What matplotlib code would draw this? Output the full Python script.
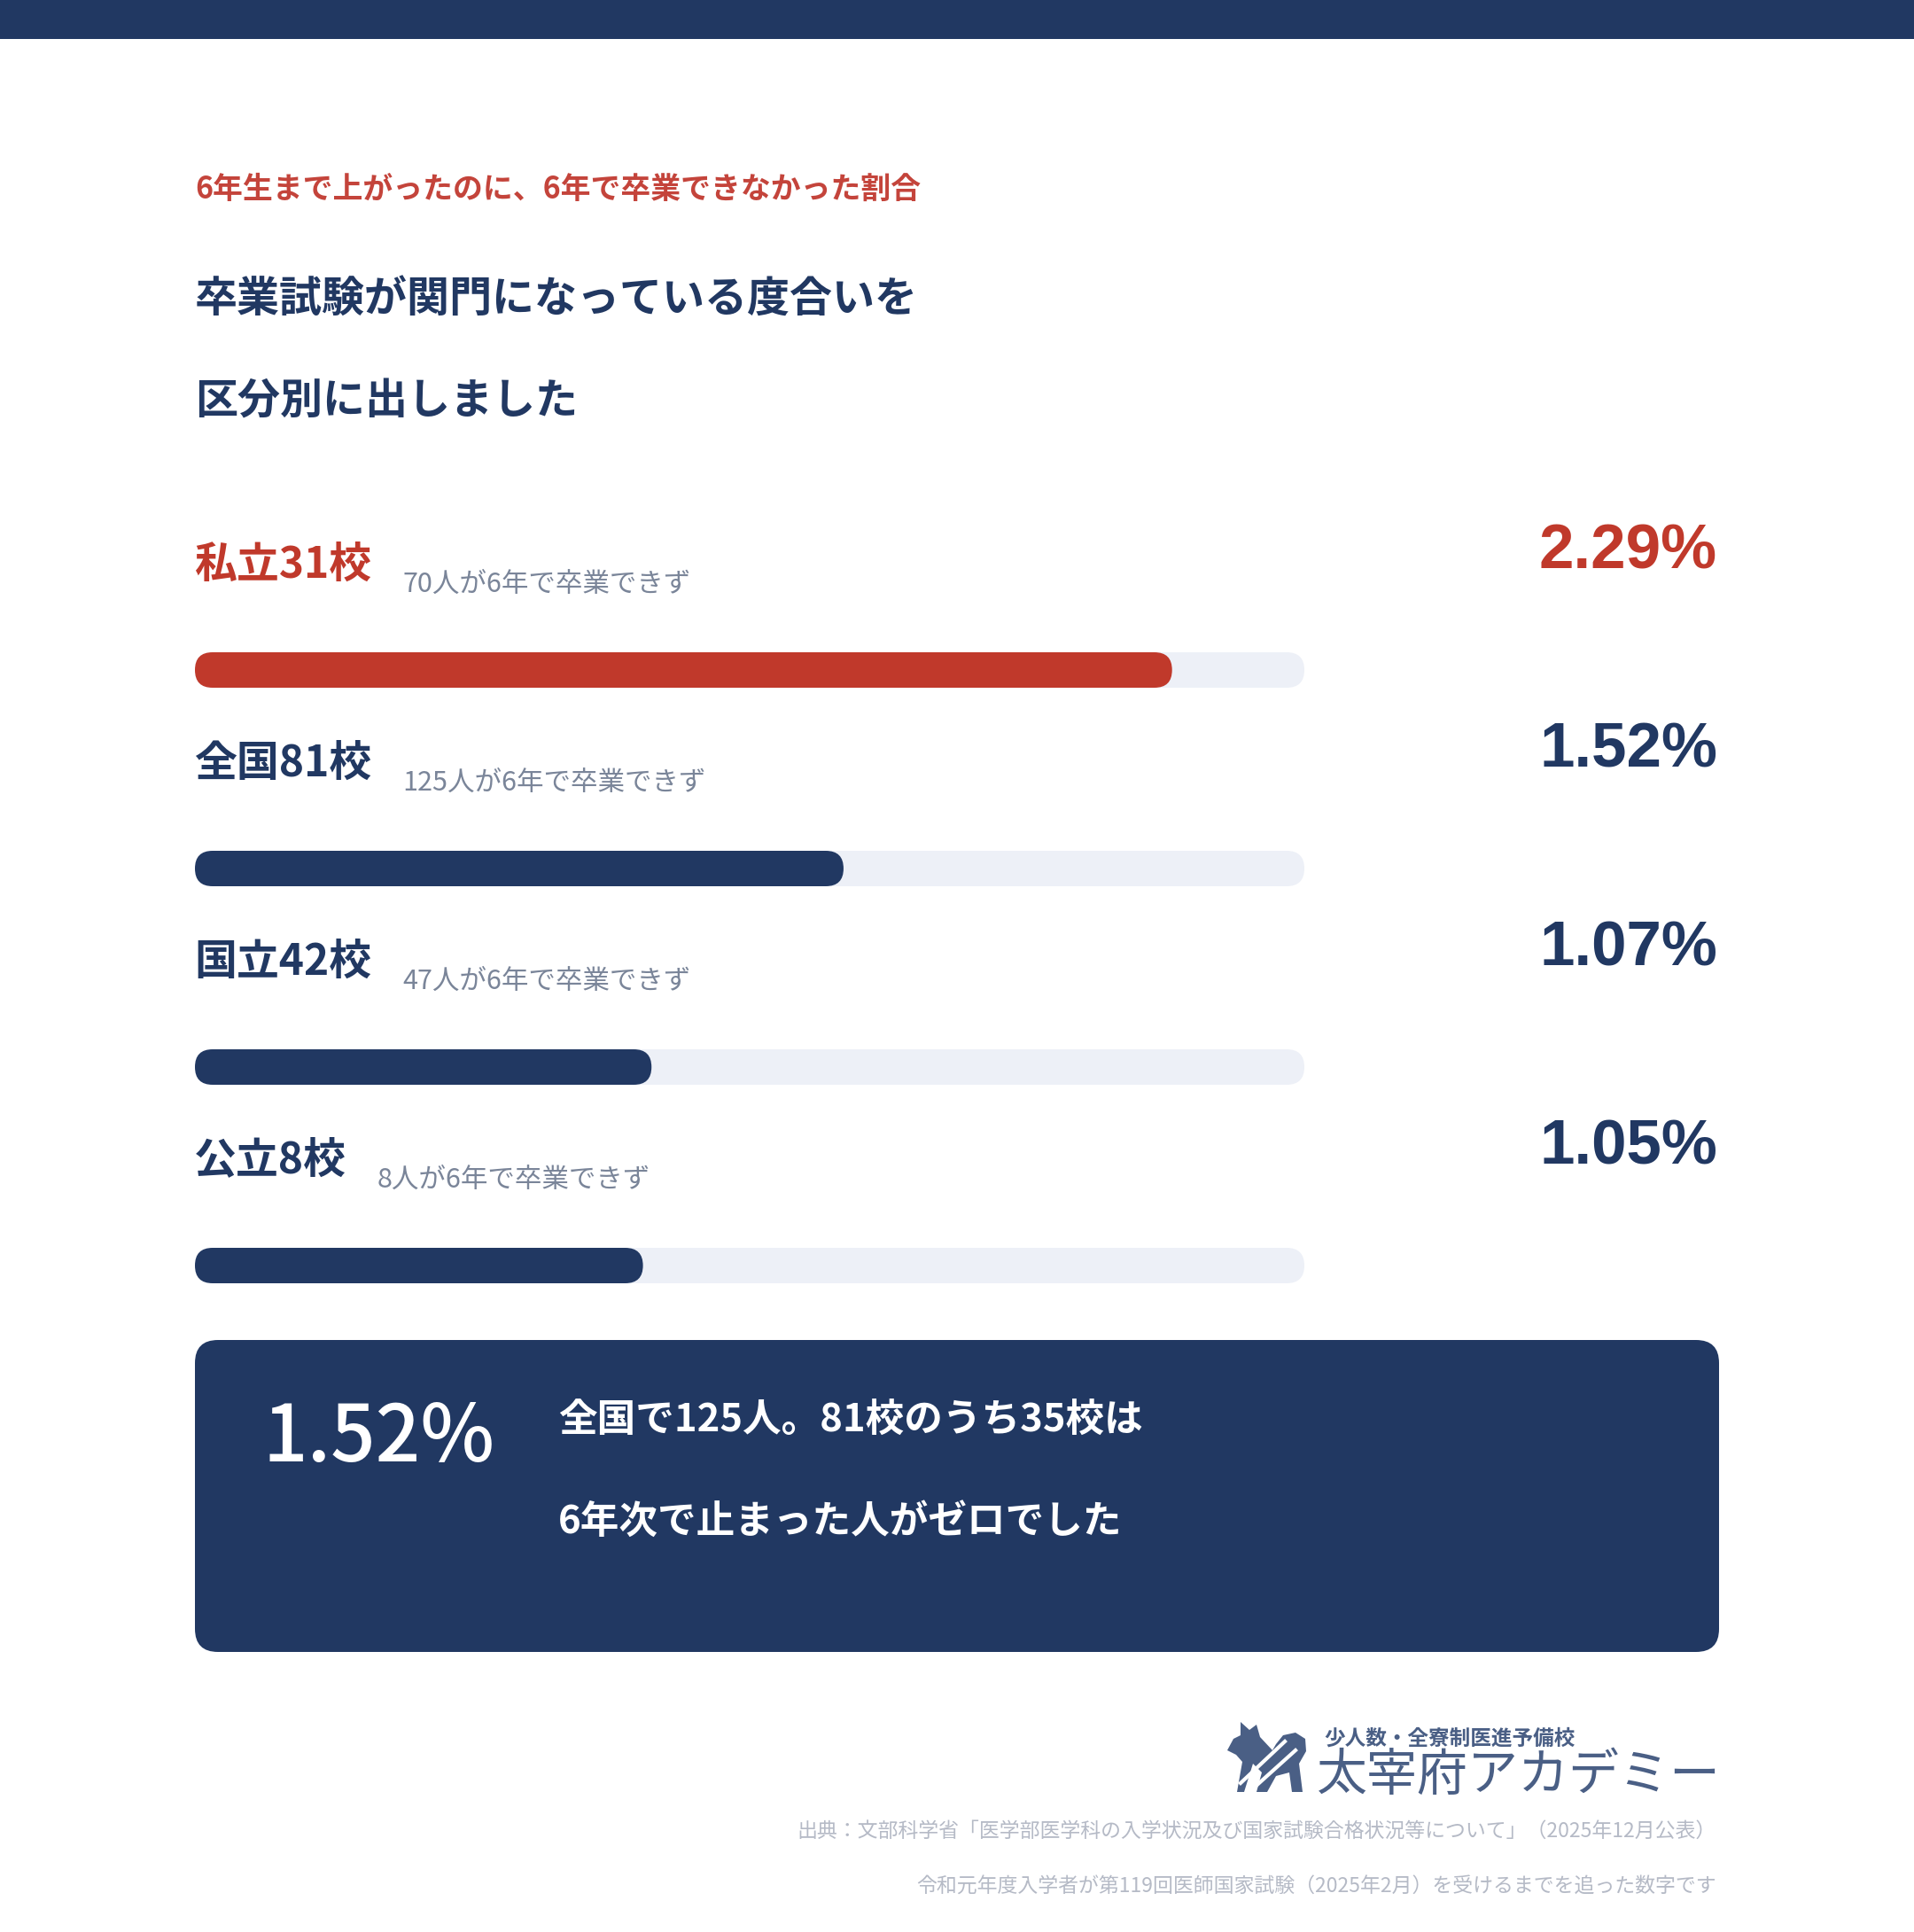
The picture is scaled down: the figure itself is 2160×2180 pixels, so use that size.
import matplotlib
matplotlib.use("Agg")
import matplotlib.pyplot as plt
from matplotlib.patches import FancyBboxPatch, Rectangle, Polygon

plt.rcParams["font.family"] = ["Noto Sans CJK JP", "DejaVu Sans"]

# データ
categories = ["私立31校", "全国81校", "国立42校", "公立8校"]
sub_labels = ["70人が6年で卒業できず", "125人が6年で卒業できず",
              "47人が6年で卒業できず", "8人が6年で卒業できず"]
rates = [2.29, 1.52, 1.07, 1.05]
highlight = [True, False, False, False]
scale_max = 2.6

kicker = "6年生まで上がったのに、6年で卒業できなかった割合"
title_lines = ["卒業試験が関門になっている度合いを", "区分別に出しました"]
box_value = "1.52%"
box_lines = ["全国で125人。81校のうち35校は", "6年次で止まった人がゼロでした"]
source_lines = ["出典：文部科学省「医学部医学科の入学状況及び国家試験合格状況等について」（2025年12月公表）",
                "令和元年度入学者が第119回医師国家試験（2025年2月）を受けるまでを追った数字です"]

NAVY = "#213862"
RED = "#C0392B"
TRACK = "#EDF0F7"
GREY = "#7A8599"
LIGHT = "#B5BAC6"
LOGO = "#4A5F85"

W, H = 2160, 2180
fig = plt.figure(figsize=(W / 100, H / 100), dpi=100)
ax = fig.add_axes([0, 0, 1, 1])
ax.set_xlim(0, W)
ax.set_ylim(H, 0)
ax.axis("off")

# 上の帯
ax.add_patch(Rectangle((0, 0), W, 44, color=NAVY, lw=0))

# 見出し
ax.text(220, 213, kicker, fontsize=24.4, fontweight="bold", color="#C4443B", va="center")
ax.text(220, 338, title_lines[0], fontsize=34.6, fontweight="bold", color=NAVY, va="center")
ax.text(220, 453, title_lines[1], fontsize=34.6, fontweight="bold", color=NAVY, va="center")

# バー
x0, track_w, bar_h = 220, 1252, 40
first_bar = 756
step = 224
fig.canvas.draw()
renderer = fig.canvas.get_renderer()
inv = ax.transData.inverted()

for i, (cat, sub, val, hl) in enumerate(zip(categories, sub_labels, rates, highlight)):
    yc = first_bar + i * step
    col = RED if hl else NAVY
    ax.add_patch(FancyBboxPatch((x0, yc - bar_h / 2), track_w, bar_h,
                                boxstyle=f"round,pad=0,rounding_size={bar_h / 2}",
                                facecolor=TRACK, edgecolor="none"))
    w = val / scale_max * track_w
    ax.add_patch(FancyBboxPatch((x0, yc - bar_h / 2), w, bar_h,
                                boxstyle=f"round,pad=0,rounding_size={bar_h / 2}",
                                facecolor=col, edgecolor="none"))
    t = ax.text(x0 - 1, yc - 119, cat, fontsize=34.5, fontweight="bold", color=col, va="center")
    bb = t.get_window_extent(renderer)
    x_end = inv.transform((bb.x1, 0))[0]
    ax.text(x_end + 35, yc - 97, sub, fontsize=22, color=GREY, va="center")
    ax.text(1938, yc - 133, f"{val:.2f}%", fontsize=51, fontweight="bold", color=col,
            family="Liberation Sans", ha="right", va="center")

# まとめボックス
ax.add_patch(FancyBboxPatch((220, 1512), 1720, 352,
                            boxstyle="round,pad=0,rounding_size=26",
                            facecolor=NAVY, edgecolor="none"))
ax.text(296, 1624, box_value, fontsize=64, fontweight="medium", color="white", va="center")
ax.text(630, 1603, box_lines[0], fontsize=31.4, fontweight="bold", color="white", va="center")
ax.text(630, 1718, box_lines[1], fontsize=31.4, fontweight="bold", color="white", va="center")

# ロゴ（簡略）
dog = [(1385, 1975), (1392, 1962), (1400, 1958), (1400, 1943), (1410, 1952),
       (1418, 1946), (1422, 1960), (1436, 1975), (1440, 1968), (1448, 1958),
       (1462, 1955), (1473, 1962), (1474, 1976), (1466, 1990), (1470, 2022),
       (1458, 2022), (1455, 2000), (1440, 2004), (1430, 2022), (1418, 2022),
       (1424, 2000), (1414, 1990), (1404, 2022), (1396, 2022), (1402, 1988),
       (1395, 1980)]
ax.add_patch(Polygon(dog, closed=True, facecolor=LOGO, edgecolor="none"))
ax.plot([1400, 1450], [2012, 1965], color="white", lw=3)
ax.plot([1412, 1462], [2020, 1975], color="white", lw=3)
ax.text(1494, 1962, "少人数・全寮制医進予備校", fontsize=17, fontweight="bold",
        color=LOGO, va="center")
ax.text(1486, 2004, "太宰府アカデミー", fontsize=41, color=LOGO, va="center")

# 出典
ax.text(1937, 2066, source_lines[0], fontsize=16.5, color=LIGHT, ha="right", va="center")
ax.text(1937, 2129, source_lines[1], fontsize=16.5, color=LIGHT, ha="right", va="center")

fig.savefig("out.png", dpi=100, facecolor="white")
